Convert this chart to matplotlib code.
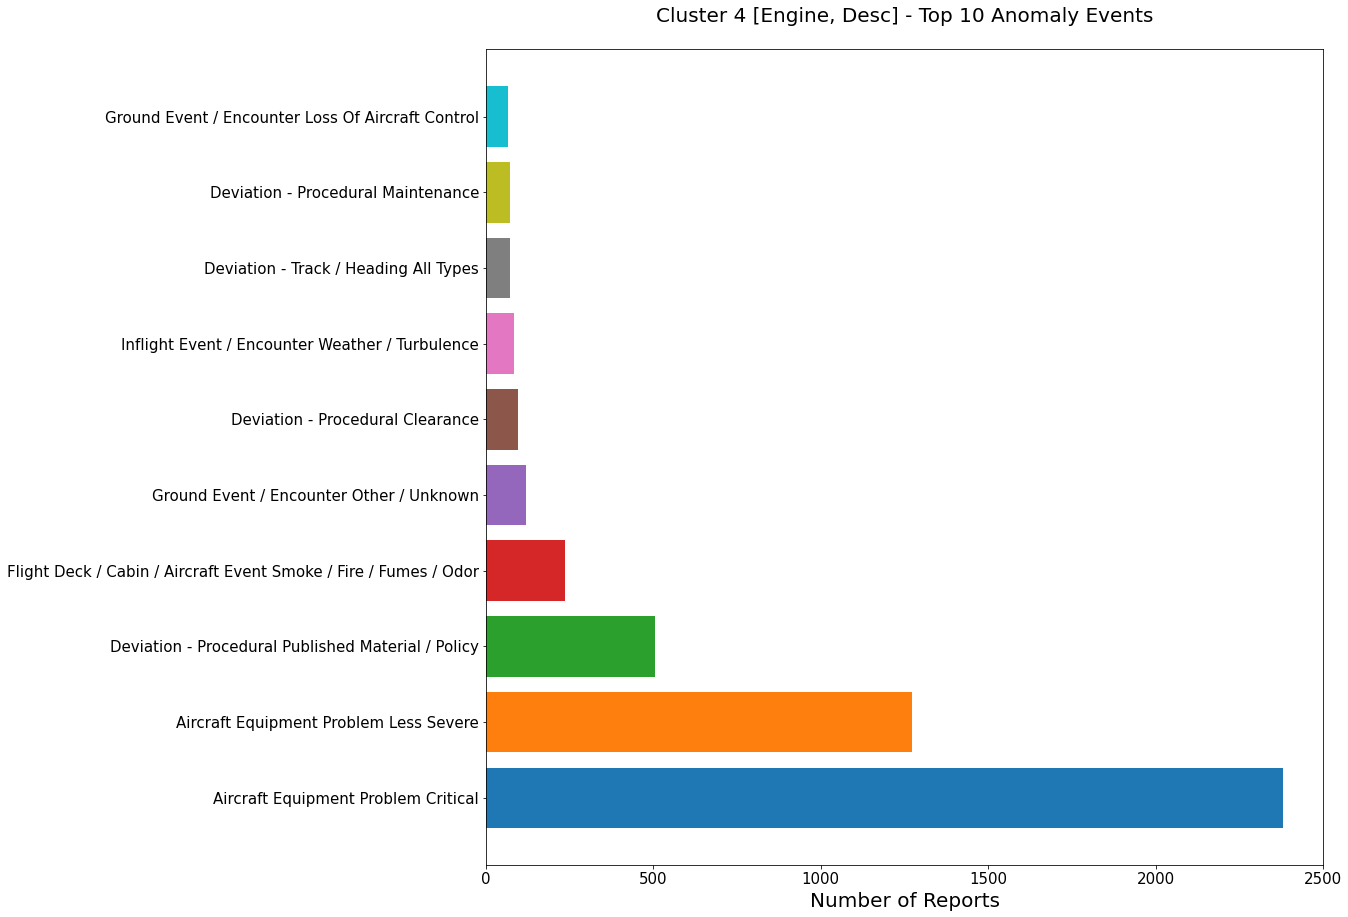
import matplotlib
matplotlib.use('Agg')
import matplotlib.pyplot as plt

categories = ['Aircraft Equipment Problem Critical',
              'Aircraft Equipment Problem Less Severe',
              'Deviation - Procedural Published Material / Policy',
              'Flight Deck / Cabin / Aircraft Event Smoke / Fire / Fumes / Odor',
              'Ground Event / Encounter Other / Unknown',
              'Deviation - Procedural Clearance',
              'Inflight Event / Encounter Weather / Turbulence',
              'Deviation - Track / Heading All Types',
              'Deviation - Procedural Maintenance',
              'Ground Event / Encounter Loss Of Aircraft Control']
counts = [2381, 1272, 505, 235, 119, 95, 83, 71, 71, 65]
colors = ['C0', 'C1', 'C2', 'C3', 'C4', 'C5', 'C6', 'C7', 'C8', 'C9']

# saved at 72 dpi so font sizes are in pixels
fig = plt.figure(figsize=(1348 / 72, 917 / 72), dpi=72)
ax = fig.add_axes([486 / 1348, 1 - 865.2 / 917, 837 / 1348, 816 / 917])
ax.barh(categories, counts, color=colors)
ax.set_xlim(0, 2500)
ax.tick_params(labelsize=15)
ax.set_xlabel('Number of Reports', fontsize=20, labelpad=5)
ax.set_title('Cluster 4 [Engine, Desc] - Top 10 Anomaly Events', fontsize=20, pad=27)
fig.savefig('out.png', dpi=72)
